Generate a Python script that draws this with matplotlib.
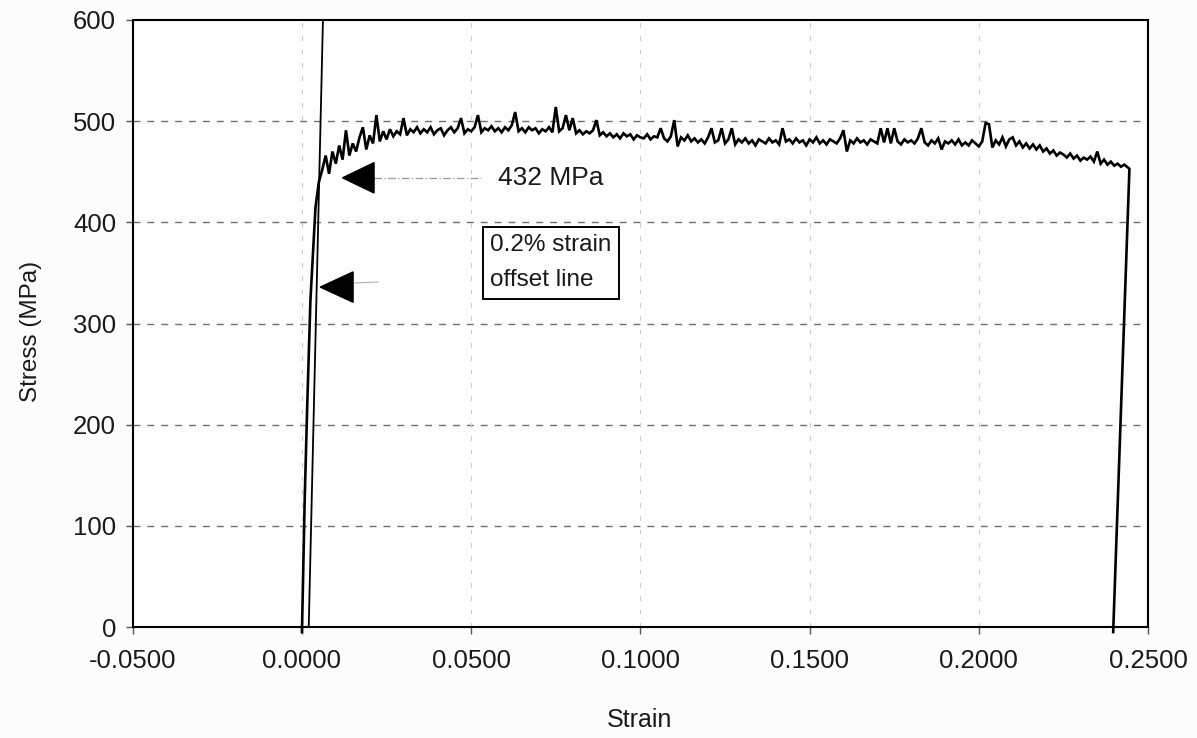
import matplotlib
matplotlib.use("Agg")
import matplotlib.pyplot as plt
from matplotlib.patches import Polygon

plt.rcParams['font.family'] = ['Liberation Sans', 'DejaVu Sans']

# ---- data ----
rise_strain = [0.0000, 0.0008, 0.0016, 0.0025, 0.0040, 0.0050]
rise_stress = [-5, 125, 224, 323, 415, 440]

# plateau strain in per-mille (x 0.001)
plateau_strain_pm = [
    6, 7, 8, 9, 10, 11, 12, 13, 14, 15,
    16, 17, 18, 19, 20, 21, 22, 23, 24, 25,
    26, 27, 28, 29, 30, 31, 32, 33, 34, 35,
    36, 37, 38, 39, 40, 41, 42, 43, 44, 45,
    46, 47, 48, 49, 50, 51, 52, 53, 54, 55,
    56, 57, 58, 59, 60, 61, 62, 63, 64, 65,
    66, 67, 68, 69, 70, 71, 72, 73, 74, 75,
    76, 77, 78, 79, 80, 81, 82, 83, 84, 85,
    86, 87, 88, 89, 90, 91, 92, 93, 94, 95,
    96, 97, 98, 99, 100, 101, 102, 103, 104, 105,
    106, 107, 108, 109, 110, 111, 112, 113, 114, 115,
    116, 117, 118, 119, 120, 121, 122, 123, 124, 125,
    126, 127, 128, 129, 130, 131, 132, 133, 134, 135,
    136, 137, 138, 139, 140, 141, 142, 143, 144, 145,
    146, 147, 148, 149, 150, 151, 152, 153, 154, 155,
    156, 157, 158, 159, 160, 161, 162, 163, 164, 165,
    166, 167, 168, 169, 170, 171, 172, 173, 174, 175,
    176, 177, 178, 179, 180, 181, 182, 183, 184, 185,
    186, 187, 188, 189, 190, 191, 192, 193, 194, 195,
    196, 197, 198, 199, 200, 201, 202, 203, 204, 205,
    206, 207, 208, 209, 210, 211, 212, 213, 214, 215,
    216, 217, 218, 219, 220, 221, 222, 223, 224, 225,
    226, 227, 228, 229, 230, 231, 232, 233, 234, 235,
    236, 237, 238, 239, 240, 241, 242, 243, 244.5,
]
plateau_stress = [
    452, 466, 448, 470, 458, 476, 462, 491, 466, 478,
    470, 484, 494, 472, 486, 478, 506, 480, 490, 482,
    492, 485, 490, 487, 503, 486, 492, 489, 494, 488,
    492, 489, 494, 487, 491, 493, 486, 491, 494, 489,
    493, 503, 488, 492, 490, 494, 506, 489, 493, 491,
    495, 490, 493, 489, 494, 491, 496, 509, 490, 493,
    489, 494, 491, 493, 488, 492, 490, 494, 489, 514,
    490, 493, 506, 491, 503, 488, 491, 487, 490, 488,
    491, 501, 486, 489, 485, 488, 484, 487, 483, 488,
    485, 487, 482, 486, 484, 483, 487, 482, 485, 484,
    493, 483, 480, 485, 501, 475, 484, 481, 486, 480,
    483, 479, 482, 478, 484, 493, 479, 481, 493, 478,
    482, 493, 477, 482, 479, 483, 478, 481, 476, 482,
    480, 478, 483, 479, 481, 477, 493, 480, 482, 478,
    483, 479, 481, 476, 482, 479, 484, 478, 481, 477,
    482, 480, 478, 483, 491, 470, 481, 478, 483, 479,
    481, 477, 482, 480, 478, 493, 479, 493, 478, 493,
    480, 477, 482, 479, 481, 478, 483, 493, 479, 476,
    481, 478, 483, 472, 480, 478, 481, 477, 482, 476,
    479, 476, 481, 478, 475, 480, 498, 497, 474, 481,
    477, 484, 475, 482, 484, 476, 480, 474, 478, 473,
    477, 472, 476, 470, 473, 468, 471, 466, 469, 467,
    464, 468, 463, 466, 461, 464, 462, 465, 460, 470,
    458, 462, 457, 460, 456, 458, 455, 457, 453,
]

fracture_strain = [0.2397]
fracture_stress = [-5]

offset_strain = [0.0020, 0.0062]
offset_stress = [0, 600]

x_ticks = [-0.05, 0.0, 0.05, 0.10, 0.15, 0.20, 0.25]
x_tick_labels = ["-0.0500", "0.0000", "0.0500", "0.1000", "0.1500", "0.2000", "0.2500"]
y_ticks = [0, 100, 200, 300, 400, 500, 600]

yield_label = "432 MPa"
yield_arrow_stress = 444
offset_arrow_stress = 336
box_text = "0.2% strain\noffset line"

# ---- figure ----
fig = plt.figure(figsize=(11.97, 7.38), dpi=100, facecolor='#fcfcfc')
ax = fig.add_axes([0.1109, 0.1504, 0.8482, 0.8225])
ax.set_facecolor('#fdfdfd')

strain = rise_strain + [v / 1000.0 for v in plateau_strain_pm] + fracture_strain
stress = rise_stress + plateau_stress + fracture_stress

ax.set_xlim(-0.05, 0.25)
ax.set_ylim(0, 600)

# grid
for y in y_ticks[1:-1]:
    ax.axhline(y, color='#707070', lw=1.0, dashes=(5, 5), zorder=1)
for x in x_ticks[1:-1]:
    ax.axvline(x, color='#cccccc', lw=0.8, dashes=(4, 8), zorder=1)

ax.plot(strain, stress, color='black', lw=1.9, clip_on=False, zorder=3,
        solid_joinstyle='miter')
ax.plot(offset_strain, offset_stress, color='black', lw=1.3, zorder=3)

# arrow 1 (432 MPa)
tri1 = Polygon([(0.0120, yield_arrow_stress), (0.0213, yield_arrow_stress + 15),
                (0.0213, yield_arrow_stress - 15)], closed=True, color='black', zorder=4)
ax.add_patch(tri1)
ax.plot([0.0213, 0.0530], [yield_arrow_stress, yield_arrow_stress], color='#9a9a9a',
        lw=0.9, dashes=(6, 2, 1, 2), zorder=2)
ax.text(0.0580, yield_arrow_stress, yield_label, fontsize=19, va='center', ha='left', zorder=5,
        color='#1a1a1a')

# arrow 2 (offset line)
tri2 = Polygon([(0.0054, offset_arrow_stress), (0.0151, offset_arrow_stress + 15),
                (0.0151, offset_arrow_stress - 15)], closed=True, color='black', zorder=4)
ax.add_patch(tri2)
ax.plot([0.0151, 0.0225], [offset_arrow_stress + 4, offset_arrow_stress + 5], color='#b0b0b0',
        lw=0.8, zorder=2)

ax.text(0.0556, 388, box_text, fontsize=17.5, va='top', ha='left', linespacing=1.75,
        color='#1a1a1a',
        bbox=dict(boxstyle='square,pad=0.3', facecolor='#fdfdfd', edgecolor='black', lw=1.4),
        zorder=5)

ax.set_xticks(x_ticks)
ax.set_xticklabels(x_tick_labels)
ax.set_yticks(y_ticks)
ax.tick_params(axis='both', labelsize=18.5, direction='out', length=5, width=1.0,
               color='#555555', labelcolor='#1a1a1a')
ax.tick_params(axis='x', pad=11)
ax.tick_params(axis='y', pad=7)
for s in ax.spines.values():
    s.set_linewidth(1.5)
    s.set_color('black')

fig.text(0.534, 0.0244, "Strain", fontsize=18, ha='center', va='center', color='#1a1a1a')
fig.text(0.026, 0.5515, "Stress (MPa)", fontsize=17.5, ha='center', va='center',
         rotation=90, color='#1a1a1a')

fig.savefig("out.png", dpi=100, facecolor=fig.get_facecolor())
